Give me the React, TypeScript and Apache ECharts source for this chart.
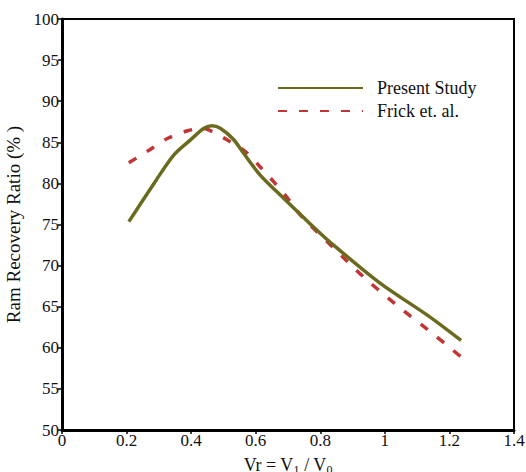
import React, { useEffect, useRef } from "react";
import * as echarts from "echarts";

const presentX = [0.207, 0.285, 0.346, 0.398, 0.44, 0.465, 0.49, 0.53, 0.562, 0.614, 0.665, 0.768, 0.829, 0.984, 1.138, 1.236];
const presentY = [75.35, 80.0, 83.45, 85.3, 86.7, 87.0, 86.7, 85.4, 83.7, 81.0, 79.0, 75.1, 72.9, 67.9, 63.8, 60.9];

const frickX = [0.207, 0.272, 0.328, 0.389, 0.43, 0.454, 0.511, 0.567, 0.614, 0.658, 0.701, 0.742, 0.835, 0.932, 1.03, 1.133, 1.236];
const frickY = [82.5, 84.1, 85.5, 86.4, 86.7, 86.5, 85.3, 83.9, 82.0, 80.1, 78.1, 76.0, 72.4, 68.7, 65.4, 62.2, 58.9];

const seriesNames = ["Present Study", "Frick et. al."];
const FONT = "'Liberation Serif', 'Times New Roman', serif";

export default function App() {
  const ref = useRef<HTMLDivElement>(null);
  useEffect(() => {
    if (!ref.current) return;
    const chart = echarts.init(ref.current, null, { renderer: "svg" });
    chart.setOption({
      animation: false,
      backgroundColor: "#fff",
      textStyle: { fontFamily: FONT, color: "#111" },
      grid: {
        left: 62, right: 12, top: 19, bottom: 42,
        containLabel: false, outerBoundsMode: "none",
        show: true, borderColor: "#000", borderWidth: 2, backgroundColor: "transparent",
      },
      legend: {
        orient: "vertical",
        left: 272, top: 74,
        itemWidth: 85, itemHeight: 18, itemGap: 5,
        data: seriesNames,
        itemStyle: { opacity: 0 },
        textStyle: { fontFamily: FONT, fontSize: 18, color: "#111", lineHeight: 18, padding: [0, 0, 0, 9] },
      },
      xAxis: {
        type: "value", min: 0, max: 1.4, interval: 0.2,
        name: "{n|Vr = V}{s|1}{n| / V}{s|0}",
        nameLocation: "middle", nameGap: 16,
        nameTextStyle: {
          rich: {
            n: { fontFamily: FONT, fontSize: 18, color: "#111", lineHeight: 20 },
            s: { fontFamily: FONT, fontSize: 12, color: "#111", lineHeight: 10, padding: [10, 0, 0, 0] },
          },
        },
        axisLine: { lineStyle: { color: "#000", width: 3 } },
        axisTick: { show: true, inside: false, length: 4, lineStyle: { color: "#000", width: 1.5 } },
        axisLabel: { fontFamily: FONT, fontSize: 17, color: "#111", margin: 2, formatter: (v: number) => String(Math.round(v * 10) / 10) },
        splitLine: { show: false },
      },
      yAxis: {
        type: "value", min: 50, max: 100, interval: 5,
        name: "Ram Recovery Ratio (% )",
        nameLocation: "middle", nameGap: 30,
        nameTextStyle: { fontFamily: FONT, fontSize: 19, color: "#111" },
        axisLine: { lineStyle: { color: "#000", width: 3 } },
        axisTick: { show: true, inside: false, length: 4, lineStyle: { color: "#000", width: 1.5 } },
        axisLabel: { fontFamily: FONT, fontSize: 17, color: "#111", margin: 3 },
        splitLine: { show: false },
      },
      series: [
        {
          name: seriesNames[0], type: "line", symbol: "none", showSymbol: false, smooth: 0.3,
          data: presentX.map((x, i) => [x, presentY[i]]),
          lineStyle: { color: "#6b6b1f", width: 3.5 },
          itemStyle: { color: "#6b6b1f" },
          z: 3,
        },
        {
          name: seriesNames[1], type: "line", symbol: "none", showSymbol: false, smooth: 0.3,
          data: frickX.map((x, i) => [x, frickY[i]]),
          lineStyle: { color: "#c23535", width: 3.5, type: [9, 12] },
          itemStyle: { color: "#c23535" },
          z: 2,
        },
      ],
    });
    return () => chart.dispose();
  }, []);
  return <div ref={ref} style={{ width: 526, height: 472, position: "absolute", left: 0, top: 0 }} />;
}
